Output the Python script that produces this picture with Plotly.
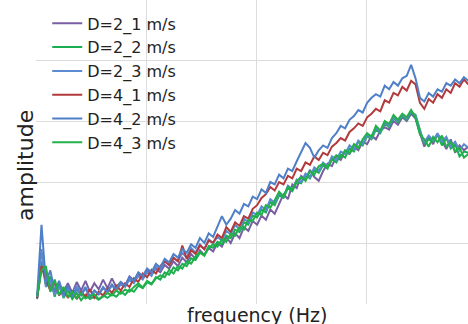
import plotly.graph_objects as go

freq = [0.01, 0.05, 0.09, 0.13, 0.17, 0.21, 0.25, 0.29, 0.33, 0.37,
        0.41, 0.45, 0.49, 0.53, 0.57, 0.61, 0.65, 0.69, 0.73, 0.77,
        0.81, 0.85, 0.89, 0.93, 0.97, 1.01, 1.05, 1.09, 1.13, 1.17,
        1.21, 1.25, 1.29, 1.33, 1.37, 1.41, 1.45, 1.49, 1.53, 1.57,
        1.61, 1.65, 1.69, 1.73, 1.77, 1.81, 1.85, 1.89, 1.93, 1.97,
        2.01, 2.05, 2.09, 2.13, 2.17, 2.21, 2.25, 2.29, 2.33, 2.37,
        2.41, 2.45, 2.49, 2.53, 2.57, 2.61, 2.65, 2.69, 2.73, 2.77,
        2.81, 2.85, 2.89, 2.93, 2.97, 3.01, 3.05, 3.09, 3.13, 3.17,
        3.21, 3.25, 3.29, 3.33, 3.37, 3.41, 3.45, 3.49, 3.53, 3.57,
        3.61, 3.65, 3.69, 3.73, 3.77, 3.81, 3.85, 3.89, 3.93]

d2_1 = [0.08, 0.60, 0.50, 0.30, 0.18, 0.32, 0.20, 0.34, 0.18, 0.36,
        0.22, 0.38, 0.20, 0.34, 0.24, 0.40, 0.26, 0.42, 0.28, 0.36,
        0.30, 0.45, 0.38, 0.50, 0.42, 0.55, 0.48, 0.58, 0.52, 0.64,
        0.58, 0.70, 0.62, 0.76, 0.68, 0.82, 0.74, 0.88, 0.80, 0.92,
        0.86, 1.00, 0.94, 1.10, 1.00, 1.16, 1.08, 1.26, 1.20, 1.36,
        1.30, 1.45, 1.38, 1.55, 1.48, 1.64, 1.80, 1.72, 1.96, 1.90,
        2.10, 2.04, 2.20, 2.08, 2.02, 2.18, 2.30, 2.26, 2.42, 2.36,
        2.50, 2.46, 2.58, 2.52, 2.66, 2.62, 2.76, 2.70, 2.84, 2.90,
        2.86, 3.00, 2.94, 3.06, 3.00, 3.12, 3.04, 2.80, 2.58, 2.74,
        2.62, 2.78, 2.68, 2.54, 2.70, 2.48, 2.60, 2.52, 2.58]

d2_2 = [0.10, 0.70, 0.30, 0.45, 0.12, 0.35, 0.10, 0.22, 0.08, 0.18,
        0.06, 0.15, 0.08, 0.12, 0.07, 0.14, 0.10, 0.16, 0.12, 0.20,
        0.15, 0.24, 0.20, 0.30, 0.26, 0.36, 0.32, 0.44, 0.40, 0.52,
        0.48, 0.60, 0.55, 0.66, 0.62, 0.75, 0.72, 0.84, 0.80, 0.95,
        0.92, 1.02, 0.98, 1.12, 1.08, 1.22, 1.18, 1.34, 1.30, 1.45,
        1.42, 1.55, 1.50, 1.68, 1.62, 1.78, 1.74, 1.90, 1.85, 2.00,
        1.98, 2.12, 2.06, 2.20, 2.15, 2.28, 2.22, 2.38, 2.32, 2.45,
        2.40, 2.55, 2.50, 2.66, 2.60, 2.75, 2.70, 2.86, 2.80, 2.96,
        2.90, 3.05, 2.98, 3.08, 3.02, 3.15, 3.10, 2.85, 2.62, 2.70,
        2.66, 2.78, 2.60, 2.72, 2.55, 2.62, 2.42, 2.50, 2.48]

d2_3 = [0.10, 0.90, 0.28, 0.40, 0.15, 0.28, 0.12, 0.26, 0.14, 0.30,
        0.16, 0.28, 0.12, 0.22, 0.16, 0.26, 0.20, 0.30, 0.22, 0.32,
        0.28, 0.40, 0.34, 0.46, 0.40, 0.52, 0.46, 0.62, 0.56, 0.70,
        0.64, 0.76, 0.70, 0.84, 0.76, 0.92, 0.84, 0.98, 0.90, 1.06,
        1.00, 1.10, 1.04, 1.20, 1.14, 1.30, 1.22, 1.40, 1.34, 1.50,
        1.46, 1.60, 1.54, 1.72, 1.66, 1.82, 1.76, 1.94, 1.88, 2.04,
        2.00, 2.14, 2.08, 2.24, 2.18, 2.32, 2.26, 2.42, 2.36, 2.50,
        2.46, 2.60, 2.54, 2.68, 2.62, 2.78, 2.72, 2.88, 2.82, 2.98,
        2.92, 3.06, 3.00, 3.10, 3.04, 3.16, 3.08, 2.82, 2.66, 2.76,
        2.68, 2.80, 2.66, 2.74, 2.58, 2.66, 2.52, 2.62, 2.56]

d4_1 = [0.10, 0.62, 0.40, 0.22, 0.35, 0.14, 0.25, 0.10, 0.22, 0.08,
        0.20, 0.12, 0.24, 0.10, 0.20, 0.14, 0.26, 0.18, 0.30, 0.22,
        0.34, 0.28, 0.42, 0.36, 0.50, 0.44, 0.56, 0.50, 0.62, 0.70,
        0.64, 0.76, 0.70, 0.96, 0.74, 0.88, 0.82, 0.96, 0.90, 1.04,
        1.00, 1.14, 1.08, 1.26, 1.18, 1.34, 1.28, 1.44, 1.40, 1.56,
        1.62, 1.74, 1.80, 1.92, 1.86, 2.00, 1.96, 2.10, 2.06, 2.22,
        2.18, 2.32, 2.28, 2.42, 2.36, 2.48, 2.44, 2.58, 2.64, 2.72,
        2.68, 2.82, 2.88, 2.96, 2.92, 3.06, 3.12, 3.20, 3.16, 3.34,
        3.30, 3.46, 3.42, 3.56, 3.50, 3.66, 3.60, 3.30, 3.20, 3.36,
        3.30, 3.44, 3.38, 3.52, 3.46, 3.62, 3.56, 3.68, 3.60]

d4_2 = [0.12, 1.30, 0.35, 0.55, 0.20, 0.38, 0.15, 0.30, 0.12, 0.24,
        0.14, 0.26, 0.10, 0.22, 0.16, 0.28, 0.20, 0.32, 0.24, 0.36,
        0.30, 0.44, 0.38, 0.52, 0.46, 0.58, 0.52, 0.66, 0.60, 0.74,
        0.68, 0.82, 0.76, 0.90, 0.84, 0.98, 0.92, 1.08, 1.00, 1.16,
        1.10, 1.26, 1.44, 1.30, 1.40, 1.54, 1.48, 1.64, 1.60, 1.76,
        1.72, 1.88, 1.82, 2.00, 1.96, 2.12, 2.06, 2.22, 2.18, 2.34,
        2.48, 2.64, 2.56, 2.40, 2.52, 2.60, 2.56, 2.72, 2.80, 2.92,
        2.88, 3.02, 3.08, 3.18, 3.14, 3.30, 3.38, 3.44, 3.40, 3.58,
        3.52, 3.64, 3.58, 3.70, 3.74, 3.92, 3.70, 3.38, 3.32, 3.46,
        3.40, 3.52, 3.48, 3.62, 3.58, 3.68, 3.62, 3.72, 3.66]

d4_3 = [0.12, 0.55, 0.62, 0.20, 0.40, 0.15, 0.28, 0.12, 0.20, 0.10,
        0.18, 0.09, 0.13, 0.16, 0.08, 0.12, 0.18, 0.14, 0.22, 0.17,
        0.24, 0.20, 0.28, 0.34, 0.27, 0.38, 0.33, 0.42, 0.47, 0.44,
        0.56, 0.50, 0.62, 0.58, 0.70, 0.66, 0.78, 0.85, 0.79, 0.92,
        0.98, 0.94, 1.06, 1.02, 1.15, 1.12, 1.26, 1.22, 1.38, 1.36,
        1.50, 1.46, 1.62, 1.58, 1.70, 1.84, 1.76, 1.92, 1.88, 2.02,
        2.08, 2.02, 2.18, 2.12, 2.26, 2.30, 2.24, 2.36, 2.44, 2.40,
        2.52, 2.47, 2.62, 2.56, 2.70, 2.80, 2.74, 2.92, 2.84, 3.00,
        2.95, 3.10, 3.02, 3.12, 3.06, 3.18, 3.05, 2.78, 2.70, 2.58,
        2.74, 2.65, 2.76, 2.58, 2.66, 2.50, 2.56, 2.40, 2.46]

names = ["D=2_1 m/s", "D=2_2 m/s", "D=2_3 m/s", "D=4_1 m/s", "D=4_2 m/s", "D=4_3 m/s"]
series = [d2_1, d2_2, d2_3, d4_1, d4_2, d4_3]
colors = ["#7a5ea3", "#1aae52", "#5b8bd0", "#b23a3c", "#4f7fc6", "#22b04a"]

fig = go.Figure()
for n, s, c in zip(names, series, colors):
    fig.add_trace(go.Scatter(x=freq, y=s, mode="lines", name=n,
                             line=dict(color=c, width=2)))

font_family = "'DejaVu Sans', sans-serif"
fig.update_layout(
    width=468, height=324,
    margin=dict(l=36, r=0, t=0, b=20),
    paper_bgcolor="white", plot_bgcolor="white",
    showlegend=True,
    legend=dict(x=0.026, y=0.979, xanchor="left", yanchor="top",
                bgcolor="rgba(0,0,0,0)", font=dict(family=font_family, size=16, color="#222"),
                tracegroupgap=0),
    xaxis=dict(range=[0, 3.927], dtick=1, tick0=0, showticklabels=False, ticks="",
               showgrid=True, gridcolor="#dcdcdc", gridwidth=1, zeroline=False, showline=False),
    yaxis=dict(range=[0, 4.984], dtick=1, tick0=0, showticklabels=False, ticks="",
               showgrid=True, gridcolor="#dcdcdc", gridwidth=1, zeroline=False, showline=False),
    annotations=[
        dict(text="amplitude", xref="paper", yref="paper", x=0, y=0.454, xshift=-10,
             xanchor="center", yanchor="middle", textangle=-90, showarrow=False,
             font=dict(family=font_family, size=22, color="#222")),
        dict(text="frequency (Hz)", xref="paper", yref="paper", x=0.5116, y=0, yshift=2,
             xanchor="center", yanchor="top", showarrow=False,
             font=dict(family=font_family, size=19, color="#222")),
    ],
)

fig.write_html("out.html")
